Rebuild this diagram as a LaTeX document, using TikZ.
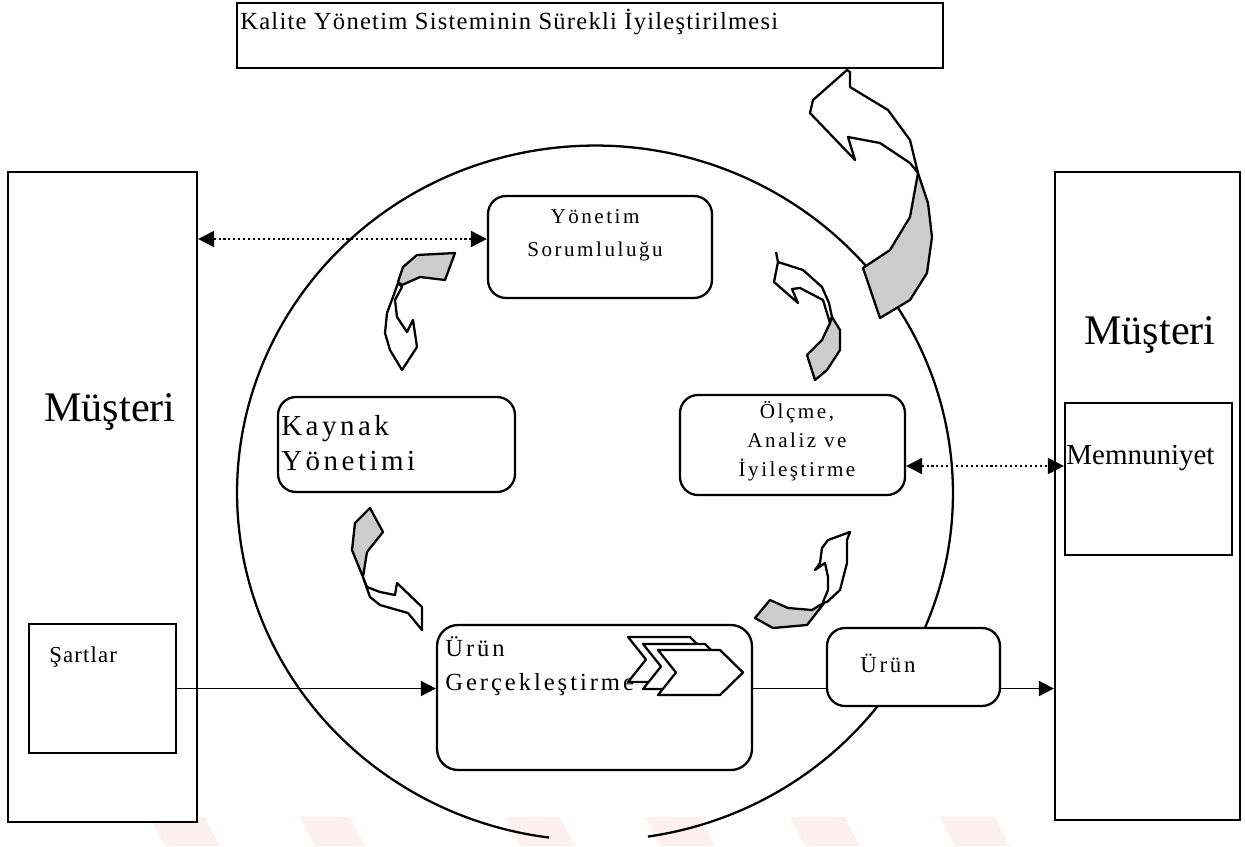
\documentclass[tikz,border=0pt]{standalone}
\usepackage{fontspec}
\setmainfont{Liberation Serif}
\newfontfamily\spc[LetterSpace=12]{Liberation Serif}
\newfontfamily\spcs[LetterSpace=5]{Liberation Serif}
\usetikzlibrary{arrows.meta}
\begin{document}
\begin{tikzpicture}[x=0.02cm,y=-0.02cm,
  box/.style={draw,line width=1.3pt,fill=white,inner sep=0pt},
  rbox/.style={box,rounded corners=0.36cm},
  lbl/.style={inner sep=0pt,align=center},
  cv/.style={draw,line width=1.3pt,line join=round,fill=white},
  cvg/.style={draw,line width=1.3pt,line join=round,fill=black!20},
  flow/.style={line width=1pt,-{Triangle[length=0.3cm,width=0.3cm]}},
  dflow/.style={line width=1.2pt,dash pattern=on 1.2pt off 1.6pt,{Triangle[length=0.32cm,width=0.32cm]}-{Triangle[length=0.32cm,width=0.32cm]}},
  chev/.style={draw,line width=1.3pt,fill=white,line join=round}]
\useasboundingbox (0,0) rectangle (1245,846);
% watermark
\foreach \a/\b in {150/205,300/350,505/560,645/700,790/845,940/995}
  \fill[red!6] (\a,817) -- (\b,817) -- (\b+15,846) -- (\a+15,846) -- cycle;
% circle
\draw[line width=1.3pt] ([shift={(278.5:7.16cm and 6.95cm)}]595,493) arc[start angle=278.5,end angle=622.6,x radius=7.16cm,y radius=6.95cm];
% boxes
\node[box,minimum width=14.12cm,minimum height=1.3cm] (title) at (590,35.5) {};
\node[lbl,anchor=west,font=\spcs\fontsize{14}{16}\selectfont] (titleT) at (240,22) {Kalite Yönetim Sisteminin Sürekli İyileştirilmesi};
\node[box,minimum width=3.78cm,minimum height=13cm] (mL) at (102.5,497) {};
\node[lbl,font=\fontsize{24}{28}\selectfont] (mLT) at (110,412) {Müşteri};
\node[box,minimum width=2.94cm,minimum height=2.58cm] (sart) at (102.5,688.5) {};
\node[lbl,anchor=west,font=\spcs\fontsize{13}{15}\selectfont] (sartT) at (49,657) {Şartlar};
\node[box,minimum width=3.7cm,minimum height=12.96cm] (mR) at (1147.5,496) {};
\node[lbl,font=\fontsize{24}{28}\selectfont] (mRT) at (1150,335) {Müşteri};
\node[box,minimum width=3.34cm,minimum height=3.04cm] (memn) at (1148.5,479) {};
\node[lbl,anchor=west,font=\fontsize{16.5}{18}\selectfont] (memnT) at (1066,458) {Memnuniyet};
\node[rbox,minimum width=4.48cm,minimum height=2.04cm] (yon) at (600,247) {};
\node[lbl,font=\spc\fontsize{12}{19}\selectfont] (yonT) at (595,235) {Yönetim\\Sorumluluğu};
\node[rbox,minimum width=4.74cm,minimum height=1.9cm] (kay) at (396.5,444.5) {};
\node[lbl,anchor=west,align=left,font=\spc\fontsize{16.5}{20}\selectfont] (kayT) at (281,443) {Kaynak\\Yönetimi};
\node[rbox,minimum width=4.5cm,minimum height=2.0cm] (olc) at (792.5,445) {};
\node[lbl,font=\spc\fontsize{12}{16.4}\selectfont] (olcT) at (797,441) {Ölçme,\\Analiz ve\\İyileştirme};
\node[rbox,rounded corners=0.42cm,minimum width=6.3cm,minimum height=2.9cm] (urg) at (594.5,697.5) {};
\node[lbl,anchor=west,align=left,font=\spc\fontsize{14}{19}\selectfont] (urgT) at (445,666) {Ürün\\Gerçekleştirme};
\node[rbox,minimum width=3.46cm,minimum height=1.56cm] (urun) at (913.5,667) {};
\node[lbl,font=\spc\fontsize{13}{15}\selectfont] (urunT) at (888,663) {Ürün};
% chevrons
\foreach \dx/\dy in {0/0,15/7,30/13}
  \draw[chev] (628+\dx,637+\dy) -- ++(62,0) -- ++(23,22.5) -- ++(-23,22.5) -- ++(-62,0) -- ++(18,-22.5) -- cycle;
% flows
\draw[flow] (sart.east) -- (sart.east -| urg.west);
\draw[line width=1pt] (urg.east |- sart.east) -- (urun.west |- sart.east);
\draw[flow] (urun.east |- sart.east) -- (mR.west |- sart.east);
\coordinate (d1) at ([yshift=0.16cm]yon.west);
\draw[dflow] (d1 -| mL.east) -- (d1);
\coordinate (d2) at ([yshift=-0.42cm]olc.east);
\draw[dflow] (d2) -- (d2 -| memn.west);
% curved arrow A (Yonetim -> Kaynak)
\draw[cvg] (417,255) -- (455,253) -- (445,280) -- (420,277) -- (402,285) -- (398,282) -- (403,267) -- cycle;
\draw[cv] (398,283) -- (393,297) -- (387,313) -- (385,333) -- (390,350) -- (402,370) -- (417,347) -- (413,320) -- (407,332) -- (397,317) -- (395,300) -- (402,287) -- cycle;
% curved arrow B (Olcme -> Yonetim)
\draw[cv] (778,262) -- (803,270) -- (822,287) -- (829,303) -- (832,317) -- (830,323) -- (823,300) -- (800,288) -- (792,289) -- (798,303) -- (774,282) -- cycle;
\draw[line width=1.3pt] (778,262) -- (776,252);
\draw[cvg] (832,317) -- (840,330) -- (840,350) -- (827,370) -- (815,380) -- (807,355) -- (822,340) -- (830,323) -- cycle;
% curved arrow C (Kaynak -> Urun)
\draw[cvg] (370,508) -- (383,532) -- (367,552) -- (363,577) -- (352,550) -- (355,523) -- cycle;
\draw[cv] (363,577) -- (367,587) -- (380,592) -- (395,595) -- (397,583) -- (422,607) -- (422,630) -- (408,613) -- (380,605) -- (370,597) -- (365,583) -- cycle;
% curved arrow D (Urun -> Olcme)
\draw[cv] (850,532) -- (847,540) -- (847,563) -- (840,590) -- (827,602) -- (823,602) -- (828,590) -- (828,577) -- (825,563) -- (815,570) -- (820,563) -- (822,548) -- (828,540) -- cycle;
\draw[cvg] (825,602) -- (812,610) -- (788,608) -- (770,600) -- (755,618) -- (773,628) -- (807,625) -- cycle;
% big arrow E (to title)
\draw[cv] (847,70) -- (813,100) -- (810,113) -- (855,160) -- (848,137) -- (880,143) -- (910,163) -- (918,173) -- (910,140) -- (888,110) -- (850,87) -- (850,72) -- cycle;
\draw[cvg] (918,173) -- (928,203) -- (932,237) -- (927,273) -- (910,300) -- (880,318) -- (863,268) -- (890,250) -- (910,217) -- cycle;
\end{tikzpicture}
\end{document}
